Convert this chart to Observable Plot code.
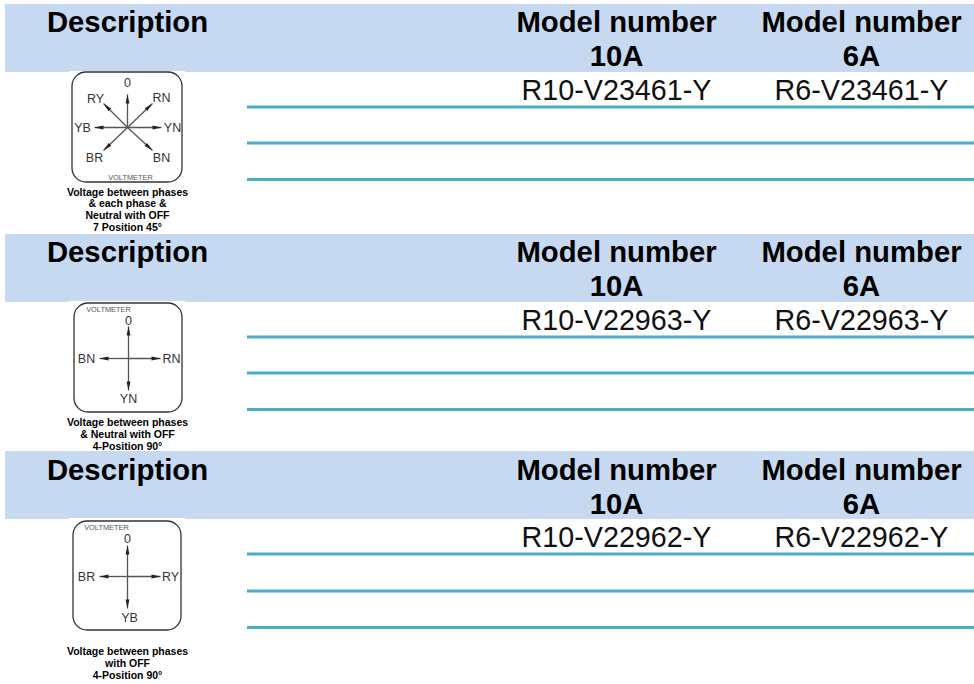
<!DOCTYPE html>
<html>
<head>
<meta charset="utf-8">
<script src="https://cdn.jsdelivr.net/npm/d3@7"></script>
<script src="https://cdn.jsdelivr.net/npm/@observablehq/plot@0.6"></script>
<style>html,body{margin:0;padding:0;background:#fff}svg{display:block}</style>
</head>
<body>
<div id="chart"></div>
<script>
// Table content
const headerDescription = "Description";
const headerModel = "Model number";
const ratings = ["10A", "6A"];
const models10A = ["R10-V23461-Y", "R10-V22963-Y", "R10-V22962-Y"];
const models6A = ["R6-V23461-Y", "R6-V22963-Y", "R6-V22962-Y"];
const captions = [
  ["Voltage between phases", "& each phase &", "Neutral with OFF", "7 Position 45°"],
  ["Voltage between phases", "& Neutral with OFF", "4-Position 90°"],
  ["Voltage between phases", "with OFF", "4-Position 90°"]
];
// Table geometry (in page units)
const bandTops = [4, 234, 451];
const bandBottoms = [72, 302, 519];
const titleBaselines = [31, 261, 479];
const line1Baselines = [31, 261, 479];
const line2Baselines = [65, 295, 513];
const modelBaselines = [99, 329, 546];
const ruleRows = [[106.5, 142.5, 179], [336.5, 372.5, 409], [553.5, 590.5, 627]];
const columnCenters = [616, 861];
const captionRows = [[192, 203.5, 215.5, 227], [422, 434, 446], [651, 663, 675]];
// Switch diagrams
const boxLeft = [72, 74, 73];
const boxRight = [182, 182, 181];
const boxTop = [72, 303, 521];
const boxBottom = [182, 412, 630];
const hubX = [127, 128, 127];
const hubY = [127, 358, 576];
const tipSets = [
  [[127, 94], [161, 127], [94, 127], [152, 103], [103, 103], [103, 150], [152, 150]],
  [[128, 326], [128, 390], [99, 358], [160, 358]],
  [[127, 545], [127, 608], [99, 576], [160, 576]]
];
const dialLabels = [
  [["0", 127, 82], ["RY", 95, 98], ["RN", 161, 97], ["YB", 82, 127], ["YN", 172, 127], ["BR", 94, 157], ["BN", 161, 157]],
  [["0", 128, 320], ["BN", 86, 358], ["RN", 171, 358], ["YN", 128, 398]],
  [["0", 127, 538], ["BR", 86, 576], ["RY", 170, 576], ["YB", 129, 617]]
];
const dialNames = [["VOLTMETER", 130, 177], ["VOLTMETER", 108, 309], ["VOLTMETER", 106, 527]];

const font = "'Liberation Sans', Arial, sans-serif";
const bands = bandTops.map((t, i) => ({t, b: bandBottoms[i]}));
const patches = bandBottoms.map(b => ({b}));
const rules = ruleRows.flat();
const titles = titleBaselines.map(y => ({y}));
const heads = line1Baselines.flatMap((y, i) => columnCenters.map((x, j) => ({x, y, r: ratings[j], y2: line2Baselines[i]})));
const cells = modelBaselines.flatMap((y, i) => [
  {x: columnCenters[0], y, t: models10A[i]},
  {x: columnCenters[1], y, t: models6A[i]}
]);
const capts = captions.flatMap((c, i) => c.map((t, k) => ({t, y: captionRows[i][k]})));
const boxes = boxLeft.map((l, i) => ({l, r: boxRight[i], t: boxTop[i], b: boxBottom[i]}));
const spokes = tipSets.flatMap((s, i) => s.map(([x, y]) => {
  const dx = x - hubX[i], dy = y - hubY[i];
  return {x1: hubX[i], y1: hubY[i], x2: x, y2: y, rot: Math.atan2(dx, -dy) * 180 / Math.PI};
}));
const labels = dialLabels.flat().map(([t, x, y]) => ({t, x, y}));
const names = dialNames.map(([t, x, y]) => ({t, x, y}));
const headShape = {
  draw(ctx, l) {
    ctx.moveTo(0, 0);
    ctx.lineTo(-1.9, 9);
    ctx.lineTo(1.9, 9);
    ctx.closePath();
  }
};

const chart = Plot.plot({
  width: 974,
  height: 684,
  margin: 0,
  x: {domain: [0, 974], range: [0, 974], axis: null},
  y: {domain: [0, 684], range: [0, 684], axis: null},
  style: {background: "#fff"},
  marks: [
    Plot.rect(bands, {x1: () => 5, x2: () => 974, y1: "t", y2: "b", fill: "#c6d9f1"}),
    Plot.rect(patches, {x1: () => 69, x2: () => 185, y1: d => d.b - 1, y2: "b", fill: "#fff"}),
    Plot.ruleY(rules, {x1: 247, x2: 974, stroke: "#4bacc6", strokeWidth: 3}),
    Plot.text(titles, {x: () => 127, y: "y", text: () => headerDescription, fontFamily: font, fontWeight: "bold", fontSize: 29.3, lineAnchor: "bottom", fill: "#000"}),
    Plot.text(heads, {x: "x", y: "y", text: () => headerModel, fontFamily: font, fontWeight: "bold", fontSize: 29.3, lineAnchor: "bottom", fill: "#000"}),
    Plot.text(heads, {x: "x", y: "y2", text: "r", fontFamily: font, fontWeight: "bold", fontSize: 29.3, lineAnchor: "bottom", fill: "#000"}),
    Plot.text(cells, {x: "x", y: "y", text: "t", fontFamily: font, fontSize: 28.7, lineAnchor: "bottom", fill: "#111"}),
    Plot.rect(boxes, {x1: "l", x2: "r", y1: "t", y2: "b", rx: 14, ry: 14, r: 14, fill: "none", stroke: "#333", strokeWidth: 1.3}),
    Plot.link(spokes, {x1: "x1", y1: "y1", x2: "x2", y2: "y2", stroke: "#555", strokeWidth: 1.3}),
    Plot.vector(spokes, {x: "x2", y: "y2", length: () => 9, rotate: "rot", shape: headShape, anchor: "start", fill: "#222", stroke: "none"}),
    Plot.text(labels, {x: "x", y: "y", text: "t", fontFamily: font, fontSize: 12.5, fill: "#333"}),
    Plot.text(names, {x: "x", y: "y", text: "t", fontFamily: font, fontSize: 7.4, fill: "#555"}),
    Plot.text(capts, {x: () => 127, y: "y", text: "t", fontFamily: font, fontWeight: "bold", fontSize: 10.5, fill: "#000"})
  ]
});
document.getElementById("chart").appendChild(chart);
</script>
</body>
</html>
